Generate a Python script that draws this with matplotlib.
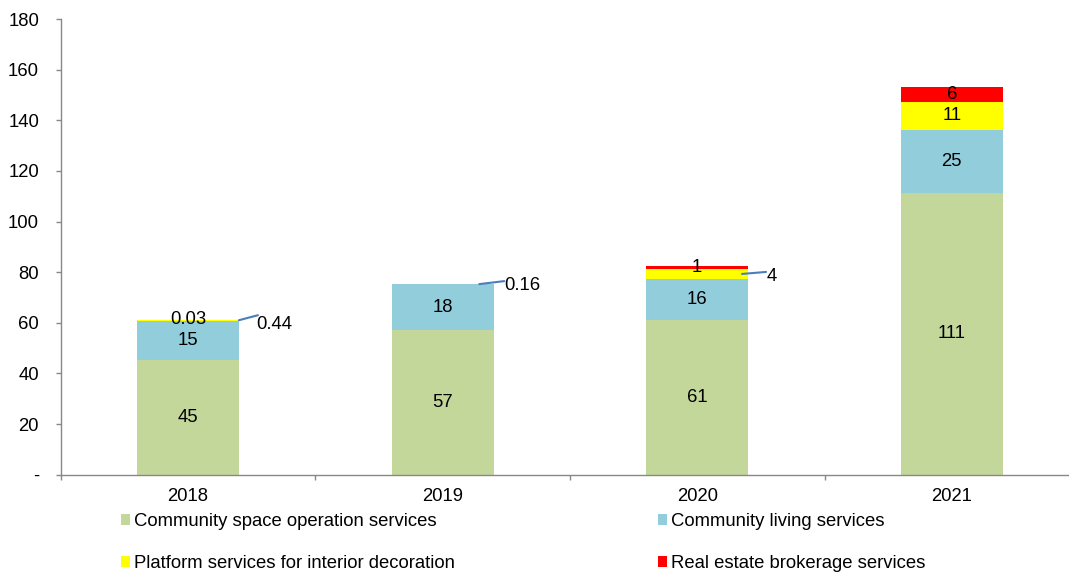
import matplotlib
matplotlib.use("Agg")
import matplotlib.pyplot as plt
from matplotlib.patches import Patch
import numpy as np

plt.rcParams['font.family'] = ['Liberation Sans', 'DejaVu Sans']

years = ['2018', '2019', '2020', '2021']
series_names = ['Community space operation services',
                'Community living services',
                'Platform services for interior decoration',
                'Real estate brokerage services']
community_space = [45.4, 57.2, 61.3, 111.3]
community_living = [15.4, 18.0, 16.0, 25.0]
interior_decoration = [0.44, 0.16, 4.0, 11.0]
brokerage = [0.03, 0.0, 1.0, 6.0]

colors = ['#C4D79B', '#92CDDC', '#FFFF00', '#FF0000']
series = [community_space, community_living, interior_decoration, brokerage]

# leader-line labels: (start dx from bar center in bar-width units,
#                      line end dx, dy, text dx, dy) in pixels
leaders = {
    (2, 0): (0.5, 19, 5, 17, -4),
    (2, 1): (0.36, 25, 3, 25, -1),
    (2, 2): (0.44, 24, 2, 25, -3),
}

def fmt(v):
    return f"{v:.2f}" if v < 1 else f"{v:.0f}"

W, H, DPI = 1069, 574, 100
fig = plt.figure(figsize=(W / DPI, H / DPI), dpi=DPI)
ax_left = 60.7 / W
ax_width = 4 * 254.6 / W
ax_bottom = 1 - 474.7 / H
ax_top = 1 - 19 / H
ax = fig.add_axes([ax_left, ax_bottom, ax_width, ax_top - ax_bottom])

x = np.arange(len(years))
bw = 0.4
bottom = np.zeros(len(years))
fs = 13.3
for si, (vals, col) in enumerate(zip(series, colors)):
    vals = np.array(vals, dtype=float)
    ax.bar(x, vals, bw, bottom=bottom, color=col, edgecolor='none', zorder=2)
    for i, v in enumerate(vals):
        if v <= 0:
            continue
        yc = bottom[i] + v / 2
        key = (si, i)
        if key in leaders:
            sx, lx, ly, tx, ty = leaders[key]
            xs = x[i] + sx * bw
            ax.annotate('', xy=(xs, yc), xytext=(lx, ly), textcoords='offset pixels',
                        arrowprops=dict(arrowstyle='-', color='#4A7EBB', lw=1.5,
                                        shrinkA=0, shrinkB=0))
            ax.annotate(fmt(v), xy=(xs, yc), xytext=(tx, ty), textcoords='offset pixels',
                        ha='left', va='center', fontsize=fs)
        else:
            ax.text(x[i], yc, fmt(v), ha='center', va='center', fontsize=fs, zorder=3)
    bottom += vals

ax.set_ylim(0, 180)
ax.set_xlim(-0.5, len(years) - 0.5)
ax.set_yticks(np.arange(0, 181, 20))
ax.set_yticklabels(['-'] + [str(v) for v in range(20, 181, 20)])
ax.set_xticks(np.arange(-0.5, len(years), 1.0))
ax.set_xticklabels([])
ax.set_xticks(x, minor=True)
ax.set_xticklabels(years, minor=True)
ax.tick_params(axis='x', which='minor', length=0, pad=9.5, labelsize=fs)
ax.tick_params(axis='x', which='major', length=3.6, width=1, color='#888888', direction='out')
ax.tick_params(axis='y', length=3.6, width=1, color='#888888', pad=12, labelsize=fs)
for s in ['top', 'right']:
    ax.spines[s].set_visible(False)
for s in ['left', 'bottom']:
    ax.spines[s].set_color('#888888')
    ax.spines[s].set_linewidth(1)

order = [0, 2, 1, 3]
handles = [Patch(facecolor=colors[k], edgecolor='none') for k in order]
labels = [series_names[k] for k in order]
fig.legend(handles, labels, ncol=2, loc='upper left',
           bbox_to_anchor=(121 / W, 1 - 513 / H), frameon=False,
           fontsize=fs, handlelength=0.5, handleheight=0.5, handletextpad=0.2,
           columnspacing=11.0, labelspacing=1.35, borderpad=0, borderaxespad=0)

fig.savefig('out.png', dpi=DPI)
